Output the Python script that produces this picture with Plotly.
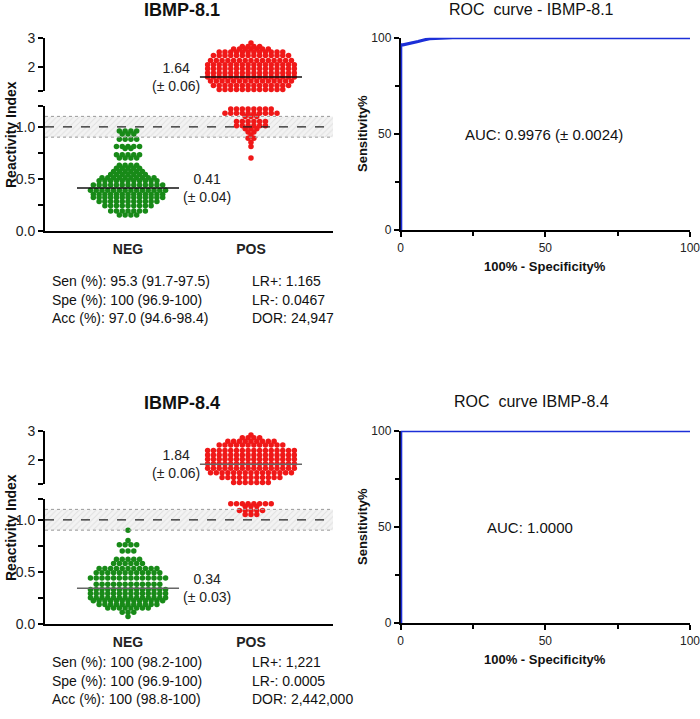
import plotly.graph_objects as go

# --- data -----------------------------------------------------------------
# swarm rows: reactivity index level + number of samples on that row
NEG_81_RI = [0.96, 0.93, 0.88, 0.81, 0.79, 0.73, 0.70, 0.63, 0.60, 0.57, 0.54,
             0.51, 0.48, 0.44, 0.39, 0.35, 0.32, 0.28, 0.24, 0.19, 0.15]
NEG_81_N = [4, 3, 4, 5, 2, 5, 4, 4, 5, 6, 7, 10, 11, 13, 14, 13, 13, 11, 9, 7, 4]
POS_81_RI = [2.82, 2.70, 2.61, 2.51, 2.39, 2.21, 2.07, 1.93, 1.78, 1.64, 1.50,
             1.35, 1.21, 1.17, 1.13, 1.10, 1.05, 1.01, 0.98, 0.95, 0.92, 0.89,
             0.85, 0.81, 0.70]
POS_81_N = [1, 4, 7, 12, 14, 15, 16, 16, 16, 16, 15, 14, 12, 8, 10, 3, 6, 6, 3,
            2, 1, 2, 1, 1, 1]

NEG_84_RI = [0.90, 0.80, 0.76, 0.70, 0.62, 0.58, 0.53, 0.49, 0.44, 0.38, 0.33,
             0.29, 0.25, 0.22, 0.185, 0.15, 0.11, 0.07]
NEG_84_N = [1, 1, 4, 3, 5, 6, 11, 12, 14, 12, 14, 14, 14, 13, 11, 8, 3, 1]
POS_84_RI = [2.85, 2.76, 2.64, 2.51, 2.32, 2.16, 2.01, 1.86, 1.70, 1.55, 1.38,
             1.21, 1.155, 1.13, 1.09, 1.05]
POS_84_N = [1, 4, 9, 12, 16, 16, 16, 16, 16, 15, 11, 7, 8, 3, 5, 3]

MEDIANS_81 = [0.41, 1.64]
MEDIANS_84 = [0.34, 1.84]
MEDIAN_LABELS_81 = ['0.41<br>(± 0.04)', '1.64<br>(± 0.06)']
MEDIAN_LABELS_84 = ['0.34<br>(± 0.03)', '1.84<br>(± 0.06)']

CUTOFF = 1.0
GREY_ZONE = [0.9, 1.1]
BREAK = 1.19  # values above go on the upper axis segment

ROC_81_FPR = [0, 0, 0.8, 3, 6, 8, 10, 18, 100]
ROC_81_TPR = [0, 96.3, 96.3, 97.2, 98, 98.8, 99.5, 100, 100]
ROC_84_FPR = [0, 0, 100]
ROC_84_TPR = [0, 100, 100]

STATS_81 = [['Sen (%): 95.3 (91.7-97.5)', 'Spe (%): 100 (96.9-100)', 'Acc (%): 97.0 (94.6-98.4)'],
            ['LR+: 1.165', 'LR-: 0.0467', 'DOR: 24,947']]
STATS_84 = [['Sen (%): 100 (98.2-100)', 'Spe (%): 100 (96.9-100)', 'Acc (%): 100 (98.8-100)'],
            ['LR+: 1,221', 'LR-: 0.0005', 'DOR: 2,442,000']]

W, H = 700, 719
FONT = 'Arial, Liberation Sans, sans-serif'
GREEN = '#188a18'
RED = '#f01818'
BLUE = '#1c2fd8'
DX = 0.047      # horizontal spacing of swarm dots (x units)
X_RANGE = [0.325, 2.667]


def px(p):
    return p / W


def py(p):
    return 1 - p / H


def swarm(levels, counts, center):
    xs, ys = [], []
    for v, n in zip(levels, counts):
        for k in range(n):
            xs.append(center + (k - (n - 1) / 2) * DX)
            ys.append(v)
    return xs, ys


fig = go.Figure()
annotations = []
shapes = []

panels = [
    dict(dy=0, sdy=0, title='<b>IBMP-8.1</b>', roc_title='ROC  curve - IBMP-8.1',
         neg=(NEG_81_RI, NEG_81_N), pos=(POS_81_RI, POS_81_N), med=MEDIANS_81,
         med_lab=MEDIAN_LABELS_81, med_col='#111111', fpr=ROC_81_FPR, tpr=ROC_81_TPR,
         auc='AUC: 0.9976 (± 0.0024)', auc_x=544, stats=STATS_81),
    dict(dy=393, sdy=381, title='<b>IBMP-8.4</b>', roc_title='ROC  curve IBMP-8.4',
         neg=(NEG_84_RI, NEG_84_N), pos=(POS_84_RI, POS_84_N), med=MEDIANS_84,
         med_lab=MEDIAN_LABELS_84, med_col='#666666', fpr=ROC_84_FPR, tpr=ROC_84_TPR,
         auc='AUC: 1.0000', auc_x=530, stats=STATS_84),
]


def txt(x, y, s, size=14, angle=0, anchor='center'):
    annotations.append(dict(xref='paper', yref='paper', x=px(x), y=py(y), text=s,
                            showarrow=False, textangle=angle, xanchor=anchor,
                            yanchor='middle', font=dict(size=size, color='#111111',
                                                        family=FONT)))


layout_axes = {}
for i, p in enumerate(panels):
    dy = p['dy']
    xs_id = 2 * i + 1          # swarm x axis
    xr_id = 2 * i + 2          # roc x axis
    yl_id = 3 * i + 1          # lower segment
    yu_id = 3 * i + 2          # upper segment
    yr_id = 3 * i + 3          # roc y
    xs, yl, yu, xr, yr = (f'x{xs_id}', f'y{yl_id}', f'y{yu_id}', f'x{xr_id}', f'y{yr_id}')

    # grey zone band
    fig.add_trace(go.Scatter(
        x=[X_RANGE[0], X_RANGE[1], X_RANGE[1], X_RANGE[0], X_RANGE[0]],
        y=[GREY_ZONE[0], GREY_ZONE[0], GREY_ZONE[1], GREY_ZONE[1], GREY_ZONE[0]],
        fill='toself', mode='lines', line=dict(width=0),
        fillcolor='rgba(0,0,0,0)',
        fillpattern=dict(shape='/', fgcolor='#cccccc', bgcolor='#f3f3f3', size=4, solidity=0.25),
        xaxis=xs, yaxis=yl, hoverinfo='skip', showlegend=False))
    for v in GREY_ZONE:
        shapes.append(dict(type='line', xref=xs, yref=yl, x0=X_RANGE[0], x1=X_RANGE[1],
                           y0=v, y1=v, line=dict(color='#999999', width=1, dash='dot')))
    shapes.append(dict(type='line', xref=xs, yref=yl, x0=X_RANGE[0], x1=X_RANGE[1],
                       y0=CUTOFF, y1=CUTOFF, line=dict(color='#222222', width=1.2, dash='dash')))

    # swarm points
    for (lv, cn), center, col in [(p['neg'], 1, GREEN), (p['pos'], 2, RED)]:
        x, y = swarm(lv, cn, center)
        lo = [(a, b) for a, b in zip(x, y) if b <= BREAK]
        hi = [(a, b) for a, b in zip(x, y) if b > BREAK]
        for pts, ya in [(lo, yl), (hi, yu)]:
            if not pts:
                continue
            fig.add_trace(go.Scatter(
                x=[a for a, _ in pts], y=[b for _, b in pts], mode='markers',
                marker=dict(color=col, size=5.5, line=dict(width=0)),
                xaxis=xs, yaxis=ya, cliponaxis=False, showlegend=False))

    # medians
    for center, m, ya in [(1, p['med'][0], yl), (2, p['med'][1], yu)]:
        shapes.append(dict(type='line', xref=xs, yref=ya, x0=center - 0.415,
                           x1=center + 0.415, y0=m, y1=m,
                           line=dict(color=p['med_col'], width=1.5)))
    annotations.append(dict(xref=xs, yref=yl, x=1.64, y=p['med'][0], text=p['med_lab'][0],
                            showarrow=False, font=dict(size=14, color='#222222'),
                            xanchor='center', yanchor='middle'))
    annotations.append(dict(xref=xs, yref=yu, x=1.6, y=p['med'][1], text=p['med_lab'][1],
                            showarrow=False, font=dict(size=14, color='#222222'),
                            xanchor='right', yanchor='middle', align='center'))

    # ROC curve
    fig.add_trace(go.Scatter(x=p['fpr'], y=p['tpr'], mode='lines',
                             line=dict(color=BLUE, width=3.2),
                             xaxis=xr, yaxis=yr, cliponaxis=False, showlegend=False))

    # axes
    ax_common = dict(showgrid=False, zeroline=False, showline=True, linecolor='black',
                     linewidth=2, ticks='outside', tickcolor='black', tickwidth=1.5,
                     automargin=False, ticklabeloverflow='allow',
                     tickfont=dict(size=14, color='#222222', family=FONT))
    layout_axes[f'xaxis{xs_id}'] = dict(
        ax_common, domain=[px(45), px(333)], range=X_RANGE, anchor=yl,
        tickvals=[1, 2], ticktext=['<b>NEG</b>', '<b>POS</b>'], ticks='',
        ticklabelstandoff=4)
    layout_axes[f'yaxis{yl_id}'] = dict(
        ax_common, domain=[py(230.7 + dy), py(106 + dy)], range=[0, 1.2], anchor=xs,
        tickvals=[0, 0.25, 0.5, 0.75, 1.0, 1.2], ticktext=['0.0', '', '0.5', '', '1.0', ''],
        ticklen=5)
    layout_axes[f'yaxis{yu_id}'] = dict(
        ax_common, domain=[py(90.7 + dy), py(37.7 + dy)], range=[1.168, 3.002], anchor=xs,
        tickvals=[1.17, 2, 3], ticktext=['', '2', '3'], ticklen=5)
    roc_ax = dict(ax_common, linewidth=1.8, range=[0, 100], tickvals=[0, 50, 100],
                  ticklen=5, layer='below traces',
                  tickfont=dict(size=12, color='#222222', family=FONT),
                  minor=dict(tickvals=[25, 75], ticks='outside', ticklen=4,
                             tickcolor='black', tickwidth=1.5))
    layout_axes[f'xaxis{xr_id}'] = dict(roc_ax, domain=[px(400.7), px(690)], anchor=yr)
    layout_axes[f'yaxis{yr_id}'] = dict(roc_ax, domain=[py(230.2 + dy), py(37.7 + dy)],
                                        anchor=xr)

    # titles and labels
    txt(182, 10 + dy, p['title'], size=18)
    txt(531, 9 + dy, p['roc_title'], size=16)
    txt(11, 135 + dy, '<b>Reactivity Index</b>', size=14, angle=-90)
    txt(362, 134 + dy, '<b>Sensitivity%</b>', size=13, angle=-90)
    txt(545, 266 + dy, '<b>100% - Specificity%</b>', size=13)
    txt(p['auc_x'], 134 + dy, p['auc'], size=15)
    for j in range(3):
        txt(50, 281 + p['sdy'] + 18.5 * j, p['stats'][0][j], size=14, anchor='left')
        txt(250, 281 + p['sdy'] + 18.5 * j, p['stats'][1][j], size=14, anchor='left')

fig.update_layout(
    width=W, height=H, margin=dict(l=0, r=0, t=0, b=0, pad=0, autoexpand=False),
    paper_bgcolor='white', plot_bgcolor='white',
    font=dict(family=FONT, color='#111111'),
    showlegend=False, annotations=annotations, shapes=shapes,
    **layout_axes)

# drop the default 8px page margin so the figure fills the window
fig.write_html('out.html', config={'displayModeBar': False},
               post_script="document.body.style.margin='0px';")
